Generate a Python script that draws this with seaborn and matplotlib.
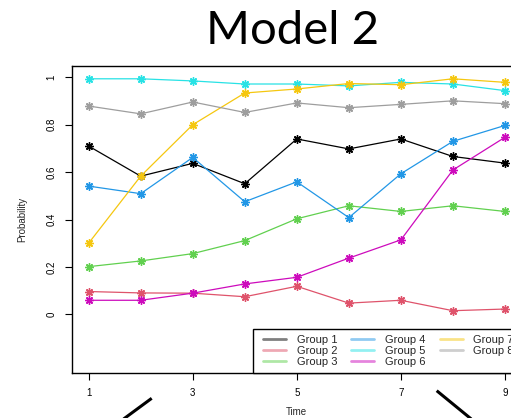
import matplotlib
matplotlib.use("Agg")
import matplotlib.pyplot as plt
from matplotlib.lines import Line2D
from matplotlib.patches import Rectangle
import pandas as pd
import seaborn as sns

# Estimated probabilities per group over time
time = [1, 2, 3, 4, 5, 6, 7, 8, 9]
group1 = [0.710, 0.583, 0.637, 0.551, 0.740, 0.698, 0.740, 0.666, 0.638]
group2 = [0.096, 0.090, 0.089, 0.074, 0.118, 0.047, 0.059, 0.015, 0.022]
group3 = [0.201, 0.225, 0.256, 0.311, 0.403, 0.458, 0.434, 0.458, 0.434]
group4 = [0.541, 0.509, 0.662, 0.475, 0.559, 0.408, 0.593, 0.730, 0.797]
group5 = [0.994, 0.994, 0.985, 0.972, 0.972, 0.964, 0.979, 0.972, 0.944]
group6 = [0.059, 0.059, 0.089, 0.128, 0.156, 0.237, 0.314, 0.609, 0.747]
group7 = [0.300, 0.583, 0.800, 0.934, 0.951, 0.974, 0.969, 0.994, 0.979]
group8 = [0.879, 0.846, 0.896, 0.852, 0.892, 0.872, 0.886, 0.901, 0.889]

group_names = [f"Group {i}" for i in range(1, 9)]
group_values = [group1, group2, group3, group4, group5, group6, group7, group8]
colors = ["black", "#DF536B", "#61D04F", "#2297E6", "#28E2E5",
          "#CD0BBC", "#F5C710", "#9E9E9E"]

x_ticks = [1, 3, 5, 7, 9]
y_ticks = [0, 0.2, 0.4, 0.6, 0.8, 1.0]
y_tick_labels = ["0", "0.2", "0.4", "0.6", "0.8", "1"]

df = pd.concat(
    [pd.DataFrame({"Time": time, "Probability": vals, "Group": name})
     for name, vals in zip(group_names, group_values)],
    ignore_index=True,
)

sns.set_style("ticks")
plt.rcParams["font.family"] = ["Liberation Sans", "DejaVu Sans"]

W, H = 511, 418
AX_L, AX_B, AX_W, AX_H = 72, 45, 449.6, 307   # axes box in pixels
fig = plt.figure(figsize=(W / 100, H / 100), dpi=100)
ax = fig.add_axes([AX_L / W, AX_B / H, AX_W / W, AX_H / H])

for name, col in zip(group_names, colors):
    sns.lineplot(
        data=df[df["Group"] == name], x="Time", y="Probability",
        color=col, lw=0.9, marker=(8, 2, 0), markersize=6,
        markeredgecolor=col, markeredgewidth=1.0, ax=ax, legend=False,
    )

ax.set_xlim(0.68, 9.32)
ax.set_ylim(-0.248, 1.048)
ax.set_xticks(x_ticks)
ax.set_xticklabels([str(t) for t in x_ticks])
ax.set_yticks(y_ticks)
ax.set_yticklabels(y_tick_labels)
for lbl in ax.get_yticklabels():
    lbl.set_rotation(90)
    lbl.set_va("center")

ax.tick_params(axis="both", direction="out", length=5, width=0.8,
               color="black", labelsize=7, labelcolor="black")
ax.tick_params(axis="x", pad=6)
ax.tick_params(axis="y", pad=6)
for s in ax.spines.values():
    s.set_color("black")
    s.set_linewidth(1.0)
    s.set_visible(True)

ax.set_xlabel("Time", fontsize=7)
ax.set_ylabel("Probability", fontsize=7)
ax.xaxis.set_label_coords(0.5, (373 - 411.7) / AX_H)
ax.xaxis.label.set_va("center")
ax.yaxis.set_label_coords((22 - AX_L) / AX_W, 0.5)
ax.yaxis.label.set_va("center")

# Legend box (bottom-right, touching the x axis)
ax.add_patch(Rectangle(((252.7 - AX_L) / AX_W, 0.0), 1.0, 44 / AX_H,
                       transform=ax.transAxes, facecolor="white",
                       edgecolor="black", lw=1.0, zorder=4, clip_on=False))
handles = [Line2D([0], [0], color=c, lw=2, alpha=0.5) for c in colors]
leg = ax.legend(
    handles, group_names, ncol=3, loc="lower left",
    bbox_to_anchor=((263 - AX_L) / AX_W, 6 / AX_H), borderaxespad=0,
    fontsize=8, frameon=False,
    handlelength=2.07, handletextpad=0.96, columnspacing=1.28,
    labelspacing=0.1, borderpad=0.0,
)
leg.set_zorder(5)

fig.text(292.5 / W, 1 - 44 / H, "Model 2", ha="center", va="baseline",
         fontsize=34, family=["Lato", "DejaVu Sans"], color="black")

# Slide connector strokes below the chart
fig.add_artist(Line2D([151.7 / W, 119.5 / W], [1 - 398.3 / H, 1 - 422 / H],
                      transform=fig.transFigure, color="black", lw=2.2,
                      solid_capstyle="butt"))
fig.add_artist(Line2D([436.7 / W, 474.9 / W], [1 - 390.7 / H, 1 - 422 / H],
                      transform=fig.transFigure, color="black", lw=2.2,
                      solid_capstyle="butt"))

fig.savefig("out.png", dpi=100)
